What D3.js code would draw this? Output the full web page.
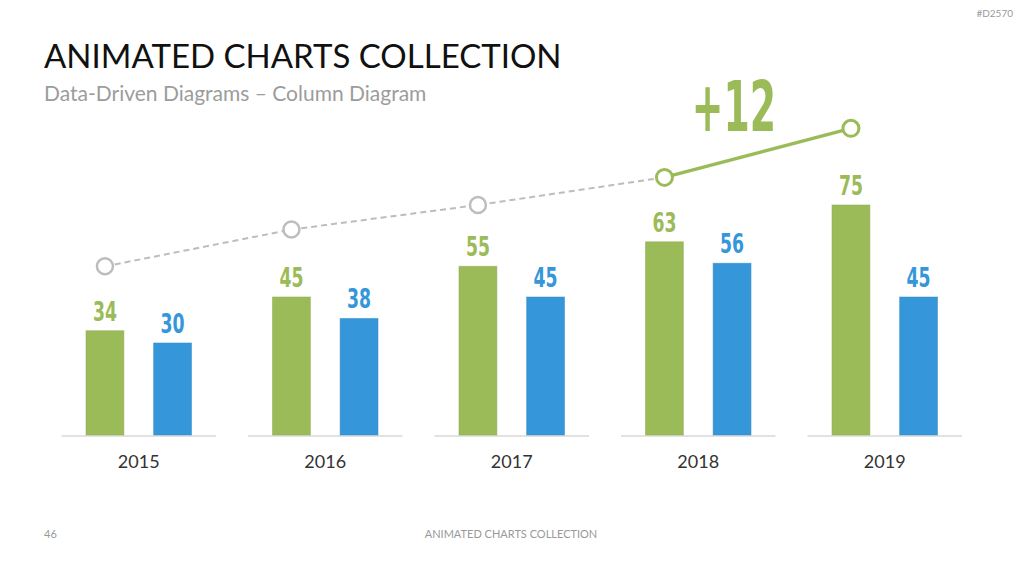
<!DOCTYPE html>
<html>
<head>
<meta charset="utf-8">
<script src="https://cdn.jsdelivr.net/npm/d3@7/dist/d3.min.js"></script>
<style>
  html, body { margin: 0; padding: 0; background: #fff; }
  svg { display: block; }
</style>
</head>
<body>
<div id="chart"></div>
<script>
const DIMENSIONS = {
    width: 1024,
    height: 576
}

// chart data
const years = ["2015", "2016", "2017", "2018", "2019"];
const seriesKeys = ["first", "second"];
const firstValues = [34, 45, 55, 63, 75];
const secondValues = [30, 38, 45, 56, 45];
const trendValues = [55, 67, 75, 84, 100];
const trendLabel = "+12";

const colors = { first: "#9bbb59", second: "#3597d9" };
const condensed = "'DejaVu Sans', sans-serif";

const svg = d3.select("#chart")
    .append("svg")
    .attr("width", DIMENSIONS.width)
    .attr("height", DIMENSIONS.height);

// header + footer texts
svg.append("text")
    .attr("x", 44).attr("y", 68)
    .attr("font-family", "Lato, 'Open Sans', sans-serif")
    .attr("font-size", 33)
    .attr("fill", "#111")
    .text("ANIMATED CHARTS COLLECTION");

svg.append("text")
    .attr("x", 44).attr("y", 101)
    .attr("font-family", "Lato, 'Open Sans', sans-serif")
    .attr("font-size", 21)
    .attr("fill", "#9c9c9c")
    .text("Data-Driven Diagrams – Column Diagram");

svg.append("text")
    .attr("x", 1013).attr("y", 17)
    .attr("text-anchor", "end")
    .attr("font-family", "Lato, sans-serif")
    .attr("font-size", 10)
    .attr("fill", "#999")
    .text("#D2570");

svg.append("text")
    .attr("x", 44).attr("y", 538)
    .attr("font-family", "Lato, sans-serif")
    .attr("font-size", 11)
    .attr("fill", "#999")
    .text("46");

svg.append("text")
    .attr("x", 511).attr("y", 538)
    .attr("text-anchor", "middle")
    .attr("font-family", "Lato, sans-serif")
    .attr("font-size", 11)
    .attr("fill", "#999")
    .text("ANIMATED CHARTS COLLECTION");

// scales
const x = d3.scaleBand()
    .domain(years)
    .range([45.5, 978])
    .paddingInner(0);

const xSub = d3.scaleBand()
    .domain(seriesKeys)
    .range([40.5, 146])
    .paddingInner(0.44);

const y = d3.scaleLinear()
    .domain([0, 75])
    .range([435, 205]);

const rows = years.map((yr, i) => ({ year: yr, first: firstValues[i], second: secondValues[i] }));

// baseline segments under each group
const groups = svg.append("g")
    .selectAll("g")
    .data(rows)
    .enter()
    .append("g")
    .attr("transform", d => "translate(" + x(d.year) + ",0)");

groups.append("line")
    .attr("x1", 16).attr("x2", x.bandwidth() - 16)
    .attr("y1", y(0) + 1).attr("y2", y(0) + 1)
    .attr("stroke", "#e2e2e2")
    .attr("stroke-width", 2);

// bars
groups.selectAll("rect")
    .data(d => seriesKeys.map(k => ({ key: k, value: d[k] })))
    .enter().append("rect")
    .attr("x", d => xSub(d.key))
    .attr("y", d => y(d.value))
    .attr("width", xSub.bandwidth())
    .attr("height", d => y(0) - y(d.value))
    .attr("fill", d => colors[d.key])
    .attr("stroke", d => d3.color(colors[d.key]).darker(0.3))
    .attr("stroke-opacity", 0.5)
    .attr("stroke-width", 1);

// value labels (squeezed horizontally to look condensed)
groups.selectAll("text.val")
    .data(d => seriesKeys.map(k => ({ key: k, value: d[k] })))
    .enter().append("text")
    .attr("class", "val")
    .attr("transform", d => "translate(" + (xSub(d.key) + xSub.bandwidth() / 2) + "," + (y(d.value) - 10) + ") scale(0.64,1)")
    .attr("text-anchor", "middle")
    .attr("font-family", condensed)
    .attr("font-weight", "bold")
    .attr("font-size", 27)
    .attr("fill", d => colors[d.key])
    .text(d => d.value);

// year labels
groups.append("text")
    .attr("x", x.bandwidth() / 2)
    .attr("y", 468)
    .attr("text-anchor", "middle")
    .attr("font-family", "Lato, 'Open Sans', sans-serif")
    .attr("font-size", 18)
    .attr("fill", "#333")
    .text(d => d.year);

// trend line
const pts = years.map((yr, i) => ({
    x: x(yr) + xSub("first") + xSub.bandwidth() / 2,
    y: y(trendValues[i]),
    last: i >= years.length - 2
}));

const line = d3.line().x(d => d.x).y(d => d.y);

svg.append("path")
    .attr("d", line(pts.slice(0, 4)))
    .attr("fill", "none")
    .attr("stroke", "#bdbdbd")
    .attr("stroke-width", 2)
    .attr("stroke-dasharray", "6,4");

svg.append("path")
    .attr("d", line(pts.slice(3)))
    .attr("fill", "none")
    .attr("stroke", colors.first)
    .attr("stroke-width", 3.5);

svg.selectAll("circle.pt")
    .data(pts)
    .enter().append("circle")
    .attr("class", "pt")
    .attr("cx", d => d.x)
    .attr("cy", d => d.y)
    .attr("r", 8)
    .attr("fill", "#fff")
    .attr("stroke", d => d.last ? colors.first : "#bdbdbd")
    .attr("stroke-width", d => d.last ? 3 : 2.5);

// growth label
svg.append("text")
    .attr("transform", "translate(734,131) scale(0.54,1)")
    .attr("text-anchor", "middle")
    .attr("font-family", condensed)
    .attr("font-weight", "bold")
    .attr("font-size", 70)
    .attr("fill", colors.first)
    .text(trendLabel);
</script>
</body>
</html>
